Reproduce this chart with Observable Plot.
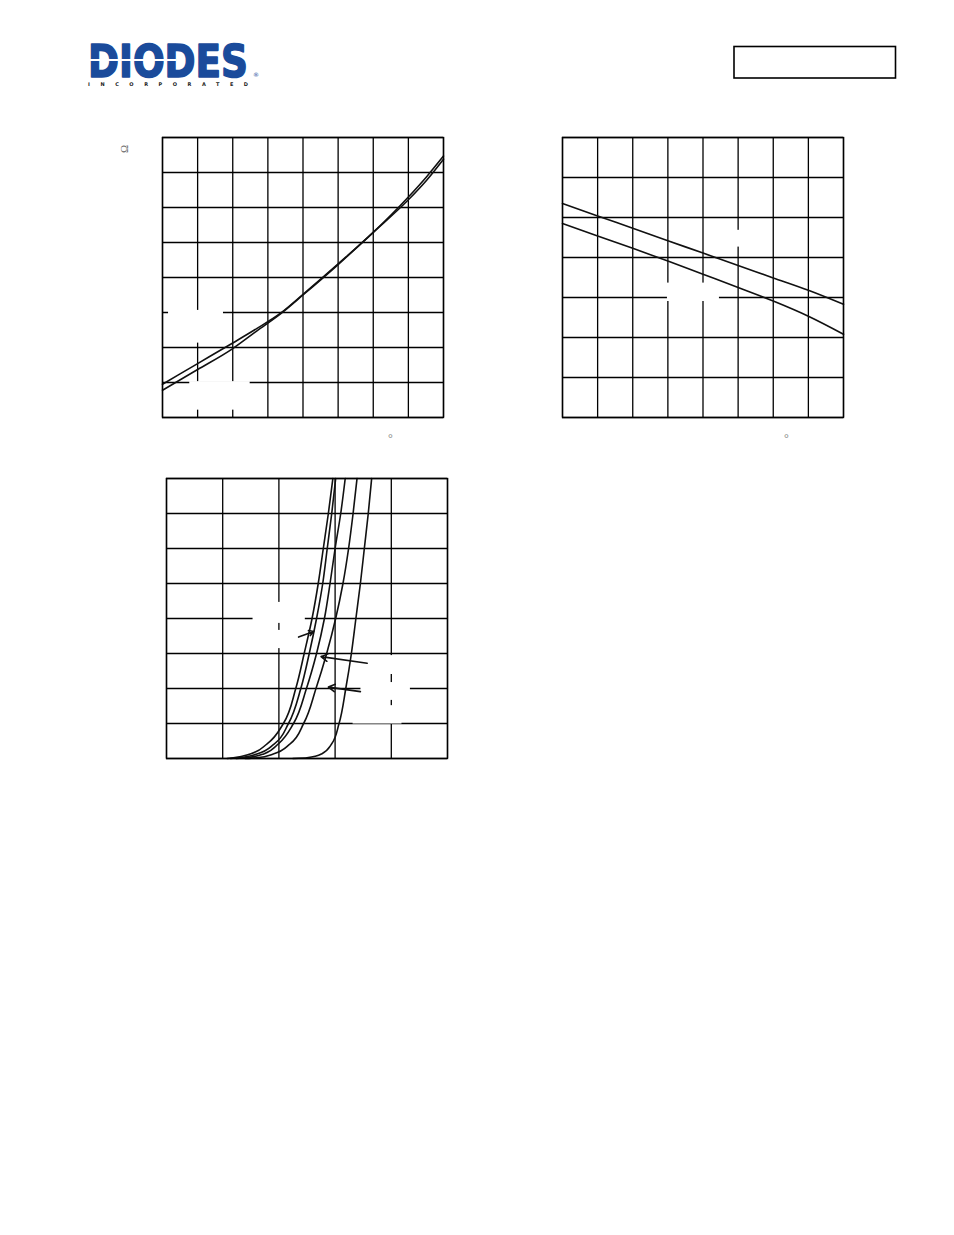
<!DOCTYPE html>
<html>
<head>
<meta charset="utf-8">
<script src="https://cdn.jsdelivr.net/npm/d3@7"></script>
<script src="https://cdn.jsdelivr.net/npm/@observablehq/plot@0.6"></script>
<style>
  html, body { margin: 0; padding: 0; background: #fff; }
  #page { position: relative; width: 954px; height: 1235px; overflow: hidden; background: #fff; }
  .chart { position: absolute; }
  #overlay { position: absolute; left: 0; top: 0; }
</style>
</head>
<body>
<div id="page">
  <svg id="overlay" width="954" height="1235" xmlns="http://www.w3.org/2000/svg">
    <text x="88" y="77" fill="#1a4b9b" stroke="#1a4b9b" stroke-width="1.6" stroke-linejoin="round" font-family="DejaVu Sans" font-weight="bold" font-size="44" textLength="160" lengthAdjust="spacingAndGlyphs">DIODES</text>
    <line x1="88" x2="176" y1="60" y2="60" stroke="#fff" stroke-width="1.8"/>
    <text x="88" y="85.5" fill="#222" font-family="DejaVu Sans" font-weight="bold" font-size="5" textLength="160" lengthAdjust="spacing">INCORPORATED</text>
    <text x="256" y="77" fill="#1a4b9b" font-family="DejaVu Sans" font-size="6" text-anchor="middle">®</text>
    <rect x="734" y="46.5" width="161.5" height="31.5" fill="none" stroke="#000" stroke-width="1.6"/>
    <text x="124" y="149" fill="#666" font-family="Liberation Serif" font-size="11" text-anchor="middle" dominant-baseline="central" transform="rotate(-90 124 149)">Ω</text>
    <text x="390.5" y="441.5" fill="#888" font-family="Liberation Serif" font-size="12" text-anchor="middle">°</text>
    <text x="786.5" y="441.5" fill="#888" font-family="Liberation Serif" font-size="12" text-anchor="middle">°</text>
  </svg>
  <div id="c1" class="chart" style="left:158px; top:133px;"></div>
  <div id="c2" class="chart" style="left:558px; top:133px;"></div>
  <div id="c3" class="chart" style="left:162px; top:474px;"></div>
</div>
<script>
// ---------- Data ----------
// Chart 1: on-resistance vs junction temperature (two curves)
const tempTicks = [-50, -25, 0, 25, 50, 75, 100, 125, 150];
const rdsTicks = [0, 0.02, 0.04, 0.06, 0.08, 0.10, 0.12, 0.14, 0.16];
const rdsTemp = [-50, -25, 0, 17, 34, 50, 75, 100, 125, 138, 150];
const rdsCurveA = [0.019, 0.0308, 0.0426, 0.0508, 0.0596, 0.0704, 0.0878, 0.1058, 0.126, 0.1376, 0.1494];
const rdsCurveB = [0.0156, 0.0274, 0.0394, 0.0494, 0.0592, 0.0700, 0.0874, 0.1058, 0.1244, 0.1356, 0.1476];

// Chart 2: gate threshold voltage vs temperature (two curves)
const vthTicks = [0, 0.5, 1.0, 1.5, 2.0, 2.5, 3.0, 3.5];
const vthCurveA = [2.675, 2.52, 2.365, 2.21, 2.055, 1.90, 1.745, 1.59, 1.415];
const vthCurveB = [2.425, 2.27, 2.115, 1.955, 1.79, 1.625, 1.455, 1.265, 1.04];

// Chart 3: transfer characteristics (drain current vs gate voltage, five temperatures)
const vgsTicks = [0, 1, 2, 3, 4, 5];
const idTicks = [0, 1, 2, 3, 4, 5, 6, 7, 8];
const idLevels = [0, 0.02, 0.13, 0.42, 1, 2, 3, 4, 5, 6, 7, 8];
const vgsCurve1 = [1.08, 1.19, 1.49, 1.79, 2.08, 2.30, 2.45, 2.59, 2.70, 2.79, 2.88, 2.96];
const vgsCurve2 = [1.14, 1.28, 1.61, 1.92, 2.17, 2.39, 2.54, 2.67, 2.78, 2.86, 2.94, 3.01];
const vgsCurve3 = [1.24, 1.40, 1.73, 1.99, 2.26, 2.49, 2.67, 2.81, 2.91, 3.00, 3.10, 3.18];
const vgsCurve4 = [1.40, 1.61, 1.90, 2.20, 2.44, 2.66, 2.85, 3.01, 3.14, 3.24, 3.32, 3.39];
const vgsCurve5 = [2.25, 2.50, 2.76, 2.94, 3.07, 3.19, 3.29, 3.37, 3.45, 3.52, 3.59, 3.65];

// ---------- Helpers ----------
const toPts = (xs, ys) => xs.map((x, i) => ({x, y: ys[i]}));

function gridPlot({xDomain, yDomain, xTicks, yTicks, masks, lines, extra = [], curve = "monotone-x"}) {
  return Plot.plot({
    width: 289, height: 288,
    marginTop: 4, marginRight: 4, marginBottom: 4, marginLeft: 4,
    x: {domain: xDomain, axis: null},
    y: {domain: yDomain, axis: null},
    style: {background: "transparent", overflow: "visible"},
    marks: [
      Plot.ruleX(xTicks, {stroke: "#000", strokeWidth: 1.3}),
      Plot.ruleY(yTicks, {stroke: "#000", strokeWidth: 1.3}),
      Plot.rect(masks, {x1: "x1", x2: "x2", y1: "y1", y2: "y2", fill: "#fff", stroke: "none"}),
      ...lines.map(d => Plot.line(d, {x: "x", y: "y", stroke: "#111", strokeWidth: 1.6, curve})),
      ...extra,
      Plot.frame({stroke: "#000", strokeWidth: 1.4})
    ]
  });
}

// Chart 1
document.getElementById("c1").append(gridPlot({
  xDomain: [-50, 150], yDomain: [0, 0.16],
  xTicks: tempTicks, yTicks: rdsTicks,
  masks: [
    {x1: -45.7, x2: -6.6, y1: 0.0425, y2: 0.0612},
    {x1: -30.6, x2: 12.4, y1: 0.0042, y2: 0.0205}
  ],
  lines: [toPts(rdsTemp, rdsCurveA), toPts(rdsTemp, rdsCurveB)]
}));

// Chart 2
document.getElementById("c2").append(gridPlot({
  xDomain: [-50, 150], yDomain: [0, 3.5],
  xTicks: tempTicks, yTicks: vthTicks,
  masks: [
    {x1: 60.8, x2: 89.3, y1: 2.13, y2: 2.34},
    {x1: 24.7, x2: 61.7, y1: 1.45, y2: 1.68}
  ],
  lines: [toPts(tempTicks, vthCurveA), toPts(tempTicks, vthCurveB)]
}));

// Chart 3
const arrows = [
  {x1: 2.35, y1: 3.47, x2: 2.62, y2: 3.63},
  {x1: 3.57, y1: 2.72, x2: 2.75, y2: 2.91},
  {x1: 3.45, y1: 1.91, x2: 2.88, y2: 2.04}
];
document.getElementById("c3").append(gridPlot({
  xDomain: [0, 5], yDomain: [0, 8],
  xTicks: vgsTicks, yTicks: idTicks,
  curve: "monotone-y",
  masks: [
    {x1: 1.54, x2: 2.47, y1: 3.86, y2: 4.46},
    {x1: 1.54, x2: 2.47, y1: 3.14, y2: 3.66},
    {x1: 3.48, x2: 4.41, y1: 2.40, y2: 2.94},
    {x1: 3.46, x2: 4.34, y1: 1.66, y2: 2.17},
    {x1: 3.32, x2: 4.19, y1: 0.985, y2: 1.51}
  ],
  lines: [vgsCurve1, vgsCurve2, vgsCurve3, vgsCurve4, vgsCurve5].map(c => toPts(c, idLevels)),
  extra: [
    Plot.arrow(arrows, {x1: "x1", y1: "y1", x2: "x2", y2: "y2", stroke: "#111", strokeWidth: 1.6, headLength: 7, bend: 0})
  ]
}));
</script>
</body>
</html>
